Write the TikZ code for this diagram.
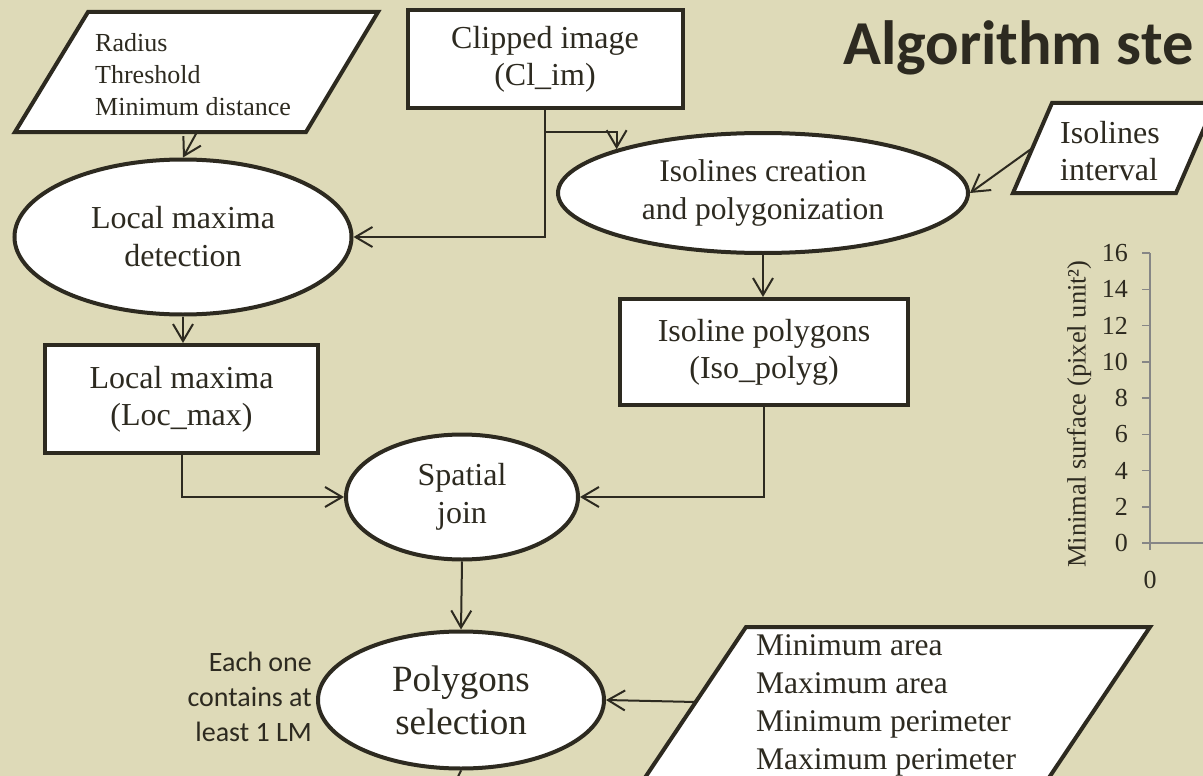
\documentclass[tikz,border=0pt]{standalone}
\usepackage{fontspec}
\setmainfont{Liberation Serif}
\newfontfamily\calib{Carlito}
\usetikzlibrary{shapes.geometric,arrows.meta,calc}
\definecolor{bg}{RGB}{222,218,184}
\definecolor{ink}{RGB}{45,42,32}
\definecolor{axisgray}{RGB}{134,134,134}
\begin{document}
\begin{tikzpicture}[x=1pt,y=-1pt,
  shapeline/.style={draw=ink, line width=4pt, fill=white, line join=miter},
  rectbox/.style={shapeline, rectangle, inner sep=0pt, align=center, text=ink, font=\fontsize{32}{37}\selectfont},
  ellbox/.style={shapeline, ellipse, inner sep=0pt, align=center, text=ink, font=\fontsize{32}{38}\selectfont},
  intext/.style={inner sep=0pt, align=left, text=ink},
  conn/.style={draw=ink, line width=2pt},
  arr/.style={conn, -{Straight Barb[length=17pt,width=20pt]}},
  axisline/.style={draw=axisgray, line width=1.5pt},
  ticklbl/.style={anchor=east, inner sep=0pt, text=ink, font=\fontsize{26}{30}\selectfont}
]
\useasboundingbox (0,0) rectangle (1203,776);
\fill[bg] (0,0) rectangle (1203,776);
\clip (0,0) rectangle (1203,776);

% title
\node[anchor=base west, inner sep=0pt, text=ink, font=\calib\bfseries\fontsize{62.5}{72}\selectfont] (title) at (843,65) {Algorithm ste};

% input parallelogram 1
\draw[shapeline] (88,12) -- (378,12) -- (306,132) -- (15,132) -- cycle;
\node[intext, anchor=west, font=\fontsize{26}{32}\selectfont] (p1) at (95,75) {Radius\\Threshold\\Minimum distance};
\coordinate (p1b) at (197,132);

% clipped image
\node[rectbox, minimum width=275pt, minimum height=98pt] (cl) at (545,59) {Clipped image\\(Cl\_im)};

% isolines creation
\node[ellbox, minimum width=410pt, minimum height=120pt, font=\fontsize{31.5}{38}\selectfont] (iso) at (763,193) {Isolines creation\\and polygonization};

% isolines interval parallelogram
\draw[shapeline] (1052,103) -- (1215,103) -- (1176,193) -- (1013,193) -- cycle;
\node[intext, anchor=west, font=\fontsize{32}{37}\selectfont] (p2) at (1060,151) {Isolines\\interval};
\coordinate (p2l) at (1032.5,148);

% local maxima detection
\node[ellbox, minimum width=337pt, minimum height=155pt] (lmd) at (183,237) {Local maxima\\detection};

% local maxima
\node[rectbox, minimum width=273pt, minimum height=108pt] (lm) at (181.5,399) {Local maxima\\(Loc\_max)};

% isoline polygons
\node[rectbox, minimum width=288pt, minimum height=106pt] (ip) at (764,352) {Isoline polygons\\(Iso\_polyg)};

% spatial join
\node[ellbox, minimum width=232pt, minimum height=125pt] (sj) at (462,497) {Spatial\\join};

% polygons selection
\node[ellbox, minimum width=286pt, minimum height=137pt, font=\fontsize{37}{43}\selectfont] (ps) at (461,700) {Polygons\\selection};

\node[anchor=east, align=right, inner sep=0pt, text=ink, font=\calib\fontsize{28}{35}\selectfont] (note) at (312,697) {Each one\\contains at\\least 1 LM};

% criteria parallelogram
\draw[shapeline] (746,627) -- (1150,627) -- (1034,800) -- (630,800) -- cycle;
\node[intext, anchor=north west, font=\fontsize{31.5}{38.3}\selectfont] (p3) at (756,634) {Minimum area\\Maximum area\\Minimum perimeter\\Maximum perimeter};
\coordinate (p3l) at (695.7,702);

% connectors
\draw[arr] (p1b) -- (lmd.north);
\draw[arr] (cl.south) -- ++(0,22) -| (iso.north west);
\draw[arr] (cl.south) |- (lmd.east);
\draw[arr] (p2l) -- (iso.east);
\draw[arr] (lmd.south) -- (lmd.south |- lm.north);
\draw[arr] (iso.south) -- (iso.south |- ip.north);
\draw[arr] (lm.south) |- (sj.west);
\draw[arr] (ip.south) |- (sj.east);
\draw[arr] (sj.south) -- (ps.north);
\draw[arr] (p3l) -- (ps.east);
\draw[conn] (ps.south) -- ++(-12,25);

% chart
\draw[axisline] (1150,253) -- (1150,550);
\draw[axisline] (1150,543) -- (1210,543);
\foreach \i in {0,...,8}{
  \draw[axisline] (1142,{543-36.25*\i}) -- (1150,{543-36.25*\i});
  \pgfmathtruncatemacro{\v}{2*\i}
  \node[ticklbl] at (1128,{543-36.25*\i}) {\v};
}
\node[inner sep=0pt, text=ink, font=\fontsize{26}{30}\selectfont] (x0) at (1150,580) {0};
\node[rotate=90, inner sep=0pt, text=ink, font=\fontsize{26.5}{30}\selectfont] (ylab) at (1079,414) {Minimal surface (pixel unit²)};
\end{tikzpicture}
\end{document}
